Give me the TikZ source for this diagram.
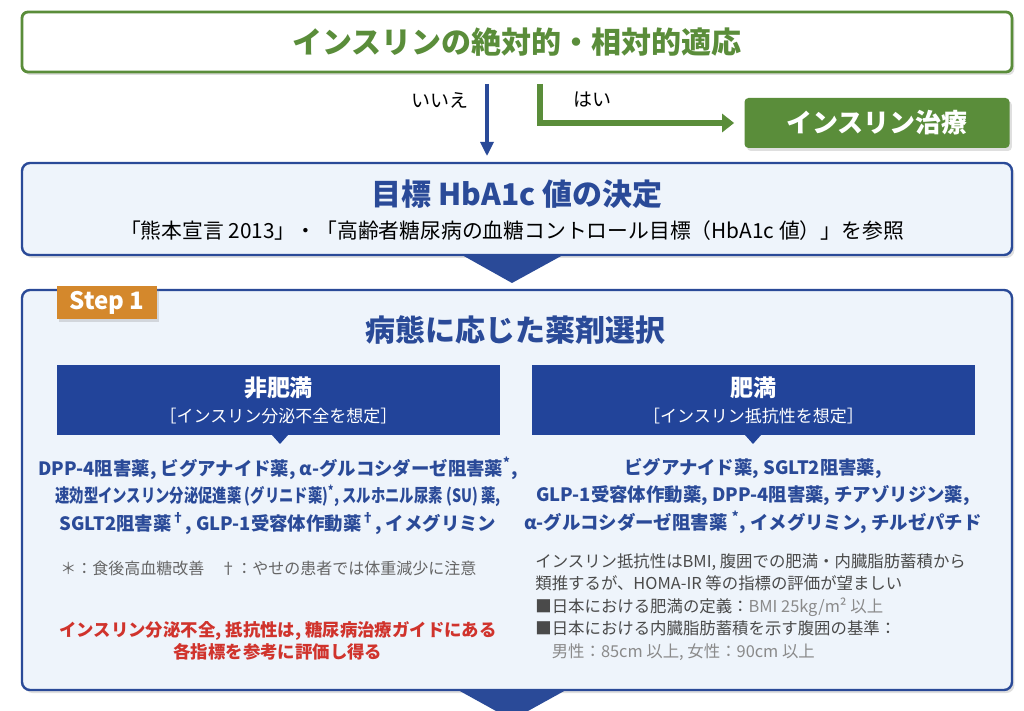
\documentclass[tikz,border=0pt]{standalone}
\usepackage{fontspec}
\setmainfont{Noto Sans CJK JP}
\usetikzlibrary{arrows.meta,shadows}
\definecolor{igreen}{HTML}{5A8D3A}
\definecolor{iblue}{HTML}{2A4A98}
\definecolor{hblue}{HTML}{22449A}
\definecolor{ifill}{HTML}{EEF4FB}
\definecolor{iorange}{HTML}{D4882C}
\definecolor{ired}{HTML}{D0332C}
\definecolor{igray}{HTML}{4A4A4A}
\definecolor{lgray}{HTML}{8A8A8A}
\tikzset{
  shade/.style={drop shadow={shadow xshift=1.2pt,shadow yshift=-1.5pt,opacity=.25}},
  greenframe/.style={draw=igreen,line width=1.4pt,rounded corners=3pt,fill=white,shade,
    minimum width=495pt,minimum height=30pt},
  greenfill/.style={fill=igreen,rounded corners=2pt,shade,text=white,
    minimum width=132.5pt,minimum height=25pt,font=\bfseries\fontsize{13}{15}\selectfont},
  blueframe/.style={draw=iblue,line width=1.2pt,rounded corners=4pt,fill=ifill,shade,
    minimum width=495pt},
  header/.style={fill=hblue,text=white,minimum width=221.5pt,minimum height=35pt,
    align=center,inner sep=0pt},
  drugs/.style={text=iblue,align=center,font=\bfseries\fontsize{9.2}{13.75}\selectfont},
  note/.style={text=igray,align=left,anchor=west,inner sep=0pt,font=\fontsize{8.2}{11.25}\selectfont},
}
\begin{document}
\begin{tikzpicture}[x=0.5pt,y=-0.5pt]
  \useasboundingbox[fill=white] (0,0) rectangle (1024,711);
  % indication and branches
  \node[greenframe,text=igreen,font=\bfseries\fontsize{15}{17}\selectfont] (indication) at (517,42)
    {インスリンの絶対的・相対的適応};
  \node[greenfill] (insulin) at (877,123) {インスリン治療};
  \coordinate (noTop) at (487,84);
  \coordinate (noEnd) at (487,156);
  \coordinate (yesTop) at (540,84);
  \draw[iblue,line width=1.6pt,-{Triangle[length=7pt,width=6.5pt]}] (noTop) -- (noEnd);
  \draw[igreen,line width=2.6pt,-{Triangle[length=6pt,width=9pt]},shorten >=5pt]
    (yesTop) |- (insulin.west);
  \node[font=\fontsize{9.5}{11}\selectfont] (nolabel) at (440,100) {いいえ};
  \node[font=\fontsize{9.5}{11}\selectfont] (yeslabel) at (592,100) {はい};
  % target HbA1c
  \node[blueframe,minimum height=46pt] (target) at (517,209) {};
  \node[text=iblue,font=\bfseries\fontsize{15}{17}\selectfont] (targettitle) at (517,194)
    {目標 HbA1c 値の決定};
  \node[font=\fontsize{10.4}{12}\selectfont] (targetref) at (512,231)
    {「熊本宣言 2013」・「高齢者糖尿病の血糖コントロール目標（HbA1c 値）」を参照};
  \fill[iblue] (462,255) -- (563,255) -- (512,283) -- cycle;
  % step 1
  \node[blueframe,minimum height=200pt] (step) at (517,490) {};
  \node[fill=iorange,shade,text=white,minimum width=50pt,minimum height=16.5pt,inner sep=0pt,
    font=\bfseries\fontsize{12}{14}\selectfont] (steplabel) at (107,303) {Step 1};
  \node[text=iblue,font=\bfseries\fontsize{15}{17}\selectfont] (steptitle) at (515,330)
    {病態に応じた薬剤選択};
  \node[header] (nonobese) at (278.5,400)
    {{\bfseries\fontsize{11.5}{14}\selectfont 非肥満}\\[1pt]
     {\fontsize{8.5}{10}\selectfont ［インスリン分泌不全を想定］}};
  \node[header] (obese) at (753.5,400)
    {{\bfseries\fontsize{11.5}{14}\selectfont 肥満}\\[1pt]
     {\fontsize{8.5}{10}\selectfont ［インスリン抵抗性を想定］}};
  \fill[hblue] (272,435) -- (288,435) -- (280,444) -- cycle;
  \fill[hblue] (745,435) -- (761,435) -- (753,444) -- cycle;
  \node[drugs] (nonobesedrugs) at (278,496)
    {DPP-4阻害薬, ビグアナイド薬, α-グルコシダーゼ阻害薬\textsuperscript{*},\\
     \scalebox{0.78}[1]{速効型インスリン分泌促進薬 (グリニド薬)\textsuperscript{*}, スルホニル尿素 (SU) 薬,}\\
     SGLT2阻害薬\textsuperscript{†}, GLP-1受容体作動薬\textsuperscript{†}, イメグリミン};
  \node[drugs] (obesedrugs) at (753,496)
    {ビグアナイド薬, SGLT2阻害薬,\\
     GLP-1受容体作動薬, DPP-4阻害薬, チアゾリジン薬,\\
     α-グルコシダーゼ阻害薬 \textsuperscript{*}, イメグリミン, チルゼパチド};
  \node[note,text=igray!85,font=\fontsize{8}{10}\selectfont] (footnote) at (60,568)
    {＊：食後高血糖改善　†：やせの患者では体重減少に注意};
  \node[text=ired,align=center,font=\bfseries\fontsize{8.7}{11}\selectfont] (remark) at (278,641)
    {インスリン分泌不全, 抵抗性は, 糖尿病治療ガイドにある\\各指標を参考に評価し得る};
  \node[note] (obesenote) at (535,607)
    {インスリン抵抗性はBMI, 腹囲での肥満・内臓脂肪蓄積から\\
     類推するが、HOMA-IR 等の指標の評価が望ましい\\
     ■日本における肥満の定義：{\color{lgray}BMI 25kg/m² 以上}\\
     ■日本における内臓脂肪蓄積を示す腹囲の基準：\\
     {\color{lgray}　男性：85cm 以上, 女性：90cm 以上}};
  \fill[iblue] (458,690) -- (566,690) -- (528,711) -- (496,711) -- cycle;
\end{tikzpicture}
\end{document}
